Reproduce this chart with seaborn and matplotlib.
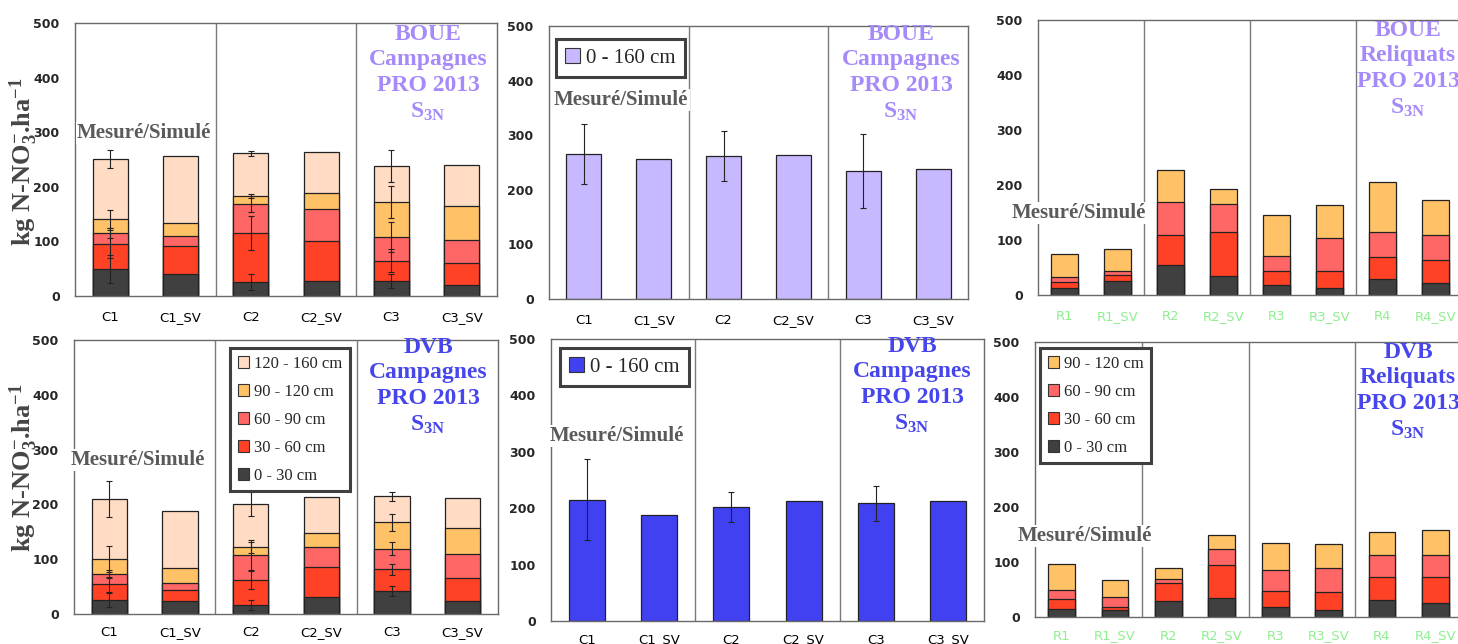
import numpy as np
import pandas as pd
import matplotlib
matplotlib.use('Agg')
import matplotlib.pyplot as plt
import matplotlib.patches as mpatches
import seaborn as sns

sns.set_style('white')
plt.rcParams['mathtext.fontset'] = 'custom'
plt.rcParams['mathtext.rm'] = 'Liberation Serif'
plt.rcParams['mathtext.bf'] = 'Liberation Serif:bold'
plt.rcParams['mathtext.it'] = 'Liberation Serif:italic'

# categories
cats_c = ['C1', 'C1_SV', 'C2', 'C2_SV', 'C3', 'C3_SV']
cats_r = ['R1', 'R1_SV', 'R2', 'R2_SV', 'R3', 'R3_SV', 'R4', 'R4_SV']
layers = ['0 - 30 cm', '30 - 60 cm', '60 - 90 cm', '90 - 120 cm', '120 - 160 cm']

# BOUE campagnes, per layer
boue_c_0_30 = [49, 40, 26, 27, 27, 20]
boue_c_30_60 = [46, 51, 89, 73, 38, 40]
boue_c_60_90 = [20, 18, 53, 59, 43, 42]
boue_c_90_120 = [26, 24, 15, 30, 64, 63]
boue_c_120_160 = [110, 124, 78, 74, 66, 75]
# error on measured (C1, C2, C3) at top of each layer
boue_c_err = [[26, 15, 13], [26, 31, 21], [9, 15, 28], [16, 3, 30], [17, 4, 29]]

# BOUE 0-160 cm
boue_tot = [266, 256, 262, 263, 235, 238]
boue_tot_err = [55, 46, 68]

# BOUE reliquats
boue_r_0_30 = [12, 26, 55, 34, 19, 12, 29, 21]
boue_r_30_60 = [12, 11, 54, 81, 24, 31, 40, 42]
boue_r_60_90 = [9, 7, 60, 50, 28, 61, 46, 46]
boue_r_90_120 = [41, 39, 58, 28, 74, 60, 90, 64]

# DVB campagnes
dvb_c_0_30 = [26, 23, 16, 31, 42, 23]
dvb_c_30_60 = [28, 21, 46, 55, 40, 43]
dvb_c_60_90 = [19, 13, 46, 36, 37, 44]
dvb_c_90_120 = [27, 27, 14, 26, 48, 47]
dvb_c_120_160 = [110, 104, 79, 66, 48, 54]
dvb_c_err = [[13, 9, 9], [13, 16, 10], [7, 27, 12], [24, 10, 15], [33, 22, 8]]

# DVB 0-160 cm
dvb_tot = [215, 188, 202, 213, 209, 212]
dvb_tot_err = [72, 27, 31]

# DVB reliquats
dvb_r_0_30 = [15, 12, 29, 35, 19, 13, 31, 25]
dvb_r_30_60 = [18, 7, 33, 59, 29, 32, 41, 47]
dvb_r_60_90 = [17, 17, 8, 30, 37, 45, 41, 41]
dvb_r_90_120 = [46, 32, 20, 26, 49, 42, 41, 45]

layer_cols = ['#404040', '#FF4126', '#FF6666', '#FFC266', '#FFDCC3']
lav = '#C8B8FF'
blue = '#4141F2'
lav_txt = '#A68AFA'
blue_txt = '#4646EC'

W, H = 1458, 644
fig = plt.figure(figsize=(W / 100, H / 100), dpi=100)


def ax_at(l, t, r, b):
    return fig.add_axes([l / W, 1 - b / H, (r - l) / W, (b - t) / H])


def ftext(x, y, s, **kw):
    fig.text(x / W, 1 - y / H, s, **kw)


def style_axis(ax, cats, lab_col, pad=11):
    n = len(cats)
    ax.set_xlim(-0.5, n - 0.5)
    ax.set_ylim(0, 500)
    ax.set_yticks(range(0, 501, 100))
    ax.set_xticks(range(n))
    ax.set_xticklabels(cats, color=lab_col, fontsize=9.5)
    ax.set_xticks(np.arange(-0.5, n, 2), minor=True)
    ax.tick_params(axis='x', which='major', length=0, pad=pad)
    ax.tick_params(axis='x', which='minor', length=6, color='#707070', direction='out')
    ax.tick_params(axis='y', length=5, color='#404040', direction='out', pad=6, labelsize=9)
    for lab in ax.get_yticklabels():
        lab.set_fontweight('bold')
    for sp in ax.spines.values():
        sp.set_visible(True)
        sp.set_color('#6a6a6a')
        sp.set_linewidth(1)
    for xb in np.arange(1.5, n - 1, 2):
        ax.axvline(xb, color='#7a7a7a', lw=1, zorder=0.5)
    ax.set_xlabel('')
    ax.set_ylabel('')


def stacked(ax, cats, layer_vals, err=None):
    cum = np.cumsum(np.array(layer_vals), axis=0)
    for i in range(len(layer_vals) - 1, -1, -1):
        df = pd.DataFrame({'cat': cats, 'val': cum[i]})
        sns.barplot(data=df, x='cat', y='val', order=cats, color=layer_cols[i],
                    saturation=1, width=0.5, edgecolor='#222222', linewidth=0.9,
                    errorbar=None, ax=ax)
    if err is not None:
        for i in range(len(layer_vals)):
            ax.errorbar([0, 2, 4], cum[i][[0, 2, 4]], yerr=err[i], fmt='none',
                        ecolor='#222222', elinewidth=0.8, capsize=2.5, capthick=0.8, zorder=5)


def single(ax, cats, vals, col, err):
    df = pd.DataFrame({'cat': cats, 'val': vals})
    sns.barplot(data=df, x='cat', y='val', order=cats, color=col, saturation=1,
                width=0.5, edgecolor='#222222', linewidth=0.9, errorbar=None, ax=ax)
    ax.errorbar([0, 2, 4], np.array(vals)[[0, 2, 4]], yerr=err, fmt='none',
                ecolor='#222222', elinewidth=0.8, capsize=2.5, capthick=0.8, zorder=5)


def leg(ax, labels, cols, fs, bbox, spacing):
    handles = [mpatches.Patch(facecolor=c, edgecolor='#333333', lw=0.8) for c in cols]
    lg = ax.legend(handles, labels, loc='upper left', bbox_to_anchor=bbox,
                   bbox_transform=fig.transFigure, prop={'family': 'Liberation Serif', 'size': fs},
                   handlelength=0.7, handleheight=0.7, handletextpad=0.3,
                   labelspacing=spacing, borderpad=0.45, borderaxespad=0,
                   fancybox=False, framealpha=1)
    lg.get_frame().set_edgecolor('#404040')
    lg.get_frame().set_linewidth(2.2)


title_kw = dict(ha='center', va='top', family='Liberation Serif', fontweight='bold',
                fontsize=17, linespacing=1.28)
ms_kw = dict(ha='left', va='center', family='Liberation Serif', fontweight='bold',
             fontsize=15, color='#5a5a5a',
             bbox=dict(facecolor='white', edgecolor='none', pad=1))
ylab = r'kg N-NO$_{\mathbf{3}}^{\mathbf{-}}$.ha$^{\mathbf{-1}}$'
t_boue_c = 'BOUE\nCampagnes\nPRO 2013\nS$_{\\mathbf{3N}}$'
t_boue_r = 'BOUE\nReliquats\nPRO 2013\nS$_{\\mathbf{3N}}$'
t_dvb_c = 'DVB\nCampagnes\nPRO 2013\nS$_{\\mathbf{3N}}$'
t_dvb_r = 'DVB\nReliquats\nPRO 2013\nS$_{\\mathbf{3N}}$'

# top row
ax1 = ax_at(75, 23, 497, 296)
stacked(ax1, cats_c, [boue_c_0_30, boue_c_30_60, boue_c_60_90, boue_c_90_120, boue_c_120_160], boue_c_err)
style_axis(ax1, cats_c, 'black')

ax2 = ax_at(549, 26, 968, 299)
single(ax2, cats_c, boue_tot, lav, boue_tot_err)
style_axis(ax2, cats_c, 'black')
leg(ax2, ['0 - 160 cm'], [lav], 15, (556 / W, 1 - 39 / H), 0.5)

ax3 = ax_at(1038, 20, 1462, 295)
stacked(ax3, cats_r, [boue_r_0_30, boue_r_30_60, boue_r_60_90, boue_r_90_120])
style_axis(ax3, cats_r, '#90EE90')

# bottom row
ax4 = ax_at(74, 340, 498, 614)
stacked(ax4, cats_c, [dvb_c_0_30, dvb_c_30_60, dvb_c_60_90, dvb_c_90_120, dvb_c_120_160], dvb_c_err)
style_axis(ax4, cats_c, 'black', pad=9)
leg(ax4, layers[::-1], layer_cols[::-1], 12, (230 / W, 1 - 348 / H), 0.72)

ax5 = ax_at(551, 339, 984, 621)
single(ax5, cats_c, dvb_tot, blue, dvb_tot_err)
style_axis(ax5, cats_c, 'black', pad=9)
leg(ax5, ['0 - 160 cm'], [blue], 15, (560 / W, 1 - 348 / H), 0.5)

ax6 = ax_at(1035, 342, 1462, 617)
stacked(ax6, cats_r, [dvb_r_0_30, dvb_r_30_60, dvb_r_60_90, dvb_r_90_120])
style_axis(ax6, cats_r, '#90EE90', pad=9)
leg(ax6, layers[:4][::-1], layer_cols[:4][::-1], 12, (1040 / W, 1 - 348 / H), 0.72)

# titles
ftext(428, 24, t_boue_c, color=lav_txt, **title_kw)
ftext(901, 24, t_boue_c, color=lav_txt, **title_kw)
ftext(1408, 20, t_boue_r, color=lav_txt, **title_kw)
ftext(428, 337, t_dvb_c, color=blue_txt, **title_kw)
ftext(912, 336, t_dvb_c, color=blue_txt, **title_kw)
ftext(1408, 342, t_dvb_r, color=blue_txt, **title_kw)

# Mesuré/Simulé labels
for x, y in [(77, 133), (554, 100), (1012, 213), (71, 460), (550, 436), (1018, 536)]:
    ftext(x, y, 'Mesuré/Simulé', **ms_kw)

# y labels
for y in [162, 468]:
    ftext(24, y, ylab, rotation=90, ha='center', va='center', family='Liberation Serif',
          fontweight='bold', fontsize=19, color='#454545')

fig.savefig('out.png', dpi=100)
